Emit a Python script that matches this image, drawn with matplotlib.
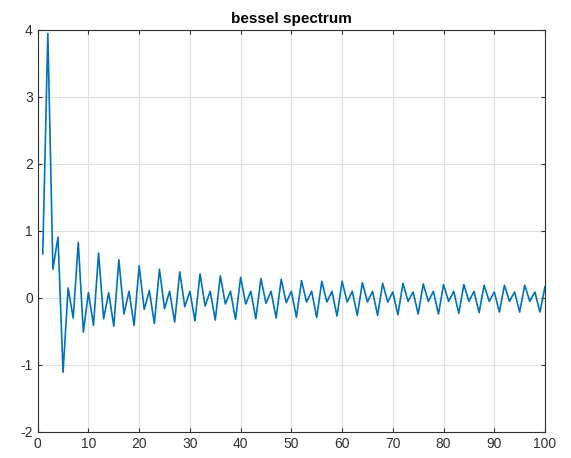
import matplotlib
matplotlib.use("Agg")
import matplotlib.pyplot as plt
import numpy as np

# sample index 1..100
x = np.arange(1, 101)

# values, grouped by position in the period-4 pattern
first = [0.66]                                   # x = 1
peak_2 = [3.95, 0.15, 0.08, 0.08, 0.10, 0.11, 0.10, 0.10, 0.10, 0.10,
          0.10, 0.10, 0.10, 0.10, 0.10, 0.10, 0.10, 0.09, 0.09, 0.10,
          0.10, 0.10, 0.09, 0.09, 0.09]          # x = 2, 6, 10, ...
dip_3 = [0.43, -0.30, -0.41, -0.42, -0.41, -0.38, -0.36, -0.34, -0.33, -0.32,
         -0.31, -0.30, -0.29, -0.29, -0.27, -0.26, -0.26, -0.25, -0.24, -0.24,
         -0.23, -0.22, -0.21, -0.21, -0.21]      # x = 3, 7, 11, ...
peak_4 = [0.91, 0.83, 0.67, 0.57, 0.48, 0.43, 0.39, 0.36, 0.33, 0.31,
          0.29, 0.28, 0.26, 0.25, 0.25, 0.23, 0.22, 0.22, 0.21, 0.20,
          0.20, 0.19, 0.19, 0.19, 0.17]          # x = 4, 8, 12, ...
dip_5 = [-1.11, -0.51, -0.31, -0.24, -0.17, -0.16, -0.13, -0.12, -0.09, -0.09,
         -0.08, -0.07, -0.06, -0.06, -0.06, -0.06, -0.06, -0.05, -0.05, -0.05,
         -0.05, -0.05, -0.05, -0.05]             # x = 5, 9, 13, ...

y = np.zeros(100)
y[0] = first[0]
y[1::4] = peak_2
y[2::4] = dip_3
y[3::4] = peak_4
y[4::4] = dip_5

plt.rcParams["font.family"] = ["Liberation Sans", "DejaVu Sans"]
plt.rcParams["axes.unicode_minus"] = False

fig = plt.figure(figsize=(5.71, 4.58), dpi=100)
ax = fig.add_axes([0.066, 0.0568, 0.8885, 0.8777])

ax.plot(x, y, color="#0072BD", linewidth=1.2)

ax.set_xlim(0, 100)
ax.set_ylim(-2, 4)
ax.set_xticks(np.arange(0, 101, 10))
ax.set_yticks(np.arange(-2, 5, 1))
ax.grid(True, color="#e0e0e0", linewidth=0.8)
ax.set_axisbelow(True)
ax.tick_params(direction="in", length=3, labelsize=10, colors="#303030",
               top=True, right=True, labeltop=False, labelright=False)
for s in ax.spines.values():
    s.set_color("#303030")
    s.set_linewidth(0.8)

ax.set_title("bessel spectrum", fontsize=11, fontweight="bold", pad=5)

fig.savefig("out.png", dpi=100)
